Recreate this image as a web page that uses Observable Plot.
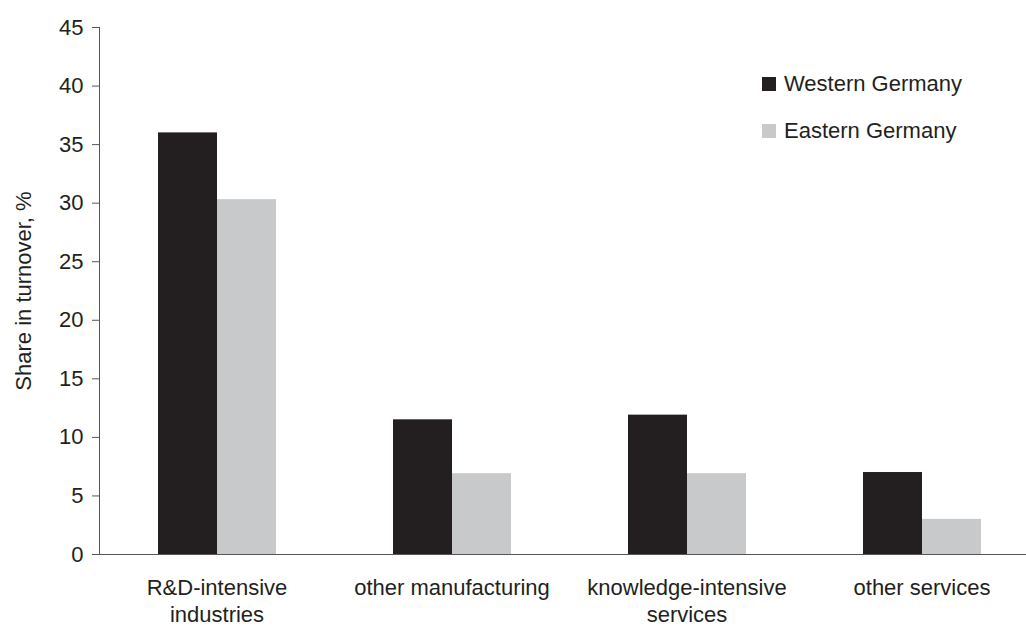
<!DOCTYPE html>
<html><head><meta charset="utf-8">
<script src="https://cdn.jsdelivr.net/npm/d3@7"></script>
<script src="https://cdn.jsdelivr.net/npm/@observablehq/plot@0.6"></script>
<style>
body{margin:0;background:#fff;font-family:"Liberation Sans",Arial,sans-serif;}
#wrap{position:relative;width:1026px;height:626px;overflow:hidden;}
.legend{position:absolute;left:762px;top:72px;font-size:22px;color:#231f20;}
.item{display:flex;align-items:center;height:24px;margin-bottom:23px;white-space:nowrap;}
.sw{width:14px;height:14px;margin-right:8px;}
</style></head><body><div id="wrap"></div>
<script>
const categories = ["R&D-intensive industries", "other manufacturing", "knowledge-intensive services", "other services"];
const categoryLabels = ["R&D-intensive\nindustries", "other manufacturing", "knowledge-intensive\nservices", "other services"];
const series = ["Western Germany", "Eastern Germany"];
const western = [36.0, 11.5, 11.9, 7.0];
const eastern = [30.3, 6.9, 6.9, 3.0];
const yTicks = [0, 5, 10, 15, 20, 25, 30, 35, 40, 45];
const colors = ["#231f20", "#c8c9cb"];

const values = [western, eastern];
const data = categories.flatMap((c, i) => series.map((s, j) => ({category: c, series: s, value: values[j][i]})));
const labelMap = new Map(categories.map((c, i) => [c, categoryLabels[i]]));

const plot = Plot.plot({
  width: 1026, height: 626,
  marginLeft: 99, marginRight: -13, marginTop: 27, marginBottom: 72,
  style: {fontFamily: "'Liberation Sans', Arial, sans-serif", fontSize: "22px", color: "#231f20", background: "#fff"},
  fx: {domain: categories, padding: 0},
  x: {domain: series, paddingInner: 0, paddingOuter: 0.99, axis: null},
  y: {domain: [0, 45]},
  color: {domain: series, range: colors},
  marks: [
    Plot.barY(data, {fx: "category", x: "series", y: "value", fill: "series"}),
    Plot.ruleY([0], {stroke: "#555"}),
    Plot.frame({anchor: "left", facetAnchor: "left", stroke: "#555"}),
    Plot.axisY({ticks: yTicks, tickSize: 7, tickPadding: 9, stroke: "#555", fill: "#231f20", fontSize: 22,
      label: "Share in turnover, %", labelAnchor: "center", labelArrow: "none", labelOffset: 84}),
    Plot.axisFx({anchor: "bottom", tickSize: 0, tickPadding: 21, tickFormat: d => labelMap.get(d), lineHeight: 1.23, fontSize: 22, fill: "#231f20", label: null})
  ]
});
const wrap = document.getElementById("wrap");
wrap.appendChild(plot);
const legend = document.createElement("div");
legend.className = "legend";
series.forEach((s, i) => {
  const item = document.createElement("div");
  item.className = "item";
  const sw = document.createElement("span");
  sw.className = "sw";
  sw.style.background = colors[i];
  const t = document.createElement("span");
  t.textContent = s;
  item.appendChild(sw); item.appendChild(t);
  legend.appendChild(item);
});
wrap.appendChild(legend);
</script></body></html>
